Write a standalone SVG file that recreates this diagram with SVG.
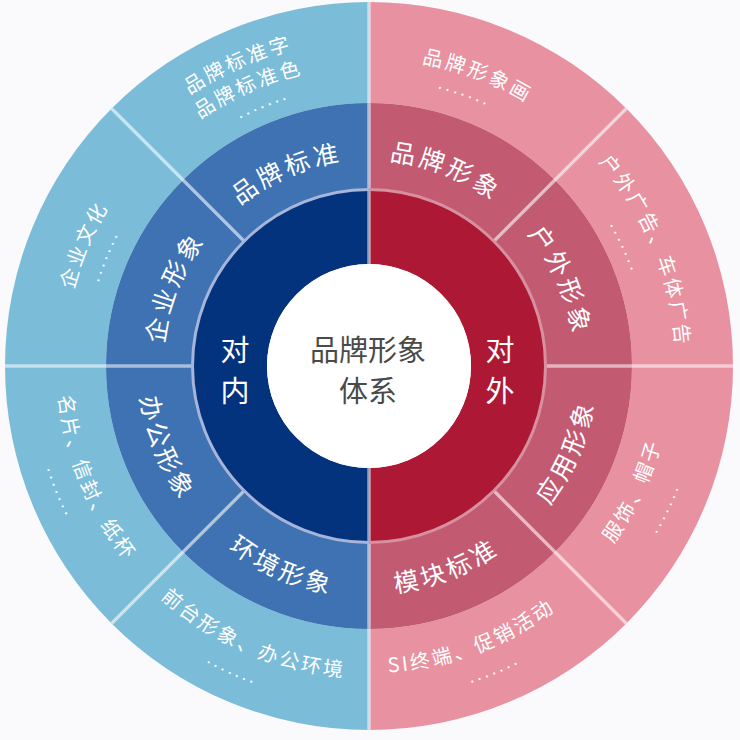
<svg xmlns="http://www.w3.org/2000/svg" xmlns:xlink="http://www.w3.org/1999/xlink" width="740" height="740" viewBox="0 0 740 740">
<defs>
<style>
.ob{fill:#7bbcd9}.mb{fill:#3e72b2}.ib{fill:#04337d}
.op{fill:#e891a1}.mp{fill:#c25a72}.ip{fill:#ad1934}
.tm{font-family:"Noto Sans CJK SC","Noto Sans",sans-serif;font-size:25px;fill:#fff;letter-spacing:3.5px;text-anchor:middle}
.to{font-family:"Noto Sans CJK SC","Noto Sans",sans-serif;font-size:20px;fill:#fff;letter-spacing:2.7px;text-anchor:middle}
.td{font-family:"Liberation Sans",sans-serif;font-size:18px;fill:#fff;letter-spacing:2.8px;text-anchor:middle}
.tc{font-family:"Noto Sans CJK SC","Noto Sans",sans-serif;font-size:29px;text-anchor:middle}
.div{stroke:#fff;stroke-opacity:0.55;stroke-width:3.5;fill:none}
</style>
<path id="mt206" d="M 236.59,208.20 A 206 206 0 0 1 501.41,208.20"/>
<path id="mb228" d="M 222.44,540.66 A 228 228 0 0 0 515.56,540.66"/>
<path id="mb231" d="M 220.52,542.96 A 231 231 0 0 0 517.48,542.96"/>
<path id="ot325" d="M 160.09,117.04 A 325 325 0 0 1 577.91,117.04"/>
<path id="ot299" d="M 176.81,136.95 A 299 299 0 0 1 561.19,136.95"/>
<path id="ot279" d="M 189.66,152.27 A 279 279 0 0 1 548.34,152.27"/>
<path id="ot307" d="M 171.66,130.83 A 307 307 0 0 1 566.34,130.83"/>
<path id="ot286" d="M 185.16,146.91 A 286 286 0 0 1 552.84,146.91"/>
<path id="ot305" d="M 172.95,132.36 A 305 305 0 0 1 565.05,132.36"/>
<path id="ot283" d="M 187.09,149.21 A 283 283 0 0 1 550.91,149.21"/>
<path id="ob302" d="M 174.88,597.34 A 302 302 0 0 0 563.12,597.34"/>
<path id="ob333" d="M 154.95,621.09 A 333 333 0 0 0 583.05,621.09"/>
<path id="ob307" d="M 171.66,601.17 A 307 307 0 0 0 566.34,601.17"/>
<path id="ob312" d="M 168.45,605.00 A 312 312 0 0 0 569.55,605.00"/>
<path id="ob338" d="M 151.74,624.92 A 338 338 0 0 0 586.26,624.92"/>
</defs>
<rect width="740" height="740" fill="#fafafc"/>

<!-- outer ring -->
<g id="outer-pinpai-biaozhunzi">
<path class="ob" d="M 111.61,108.61 A 364 364 0 0 1 369,2 L 369,103 A 263 263 0 0 0 183.03,180.03 Z"/>
<text class="to" transform="rotate(-23.5 369 366)"><textPath xlink:href="#ot325" href="#ot325" startOffset="50%">品牌标准字</textPath></text>
<text class="to" transform="rotate(-23.5 369 366)"><textPath xlink:href="#ot299" href="#ot299" startOffset="50%">品牌标准色</textPath></text>
<text class="td" transform="rotate(-22.1 369 366)"><textPath xlink:href="#ot279" href="#ot279" startOffset="50%">.......</textPath></text>
</g>
<g id="outer-pinpai-xingxianghua">
<path class="op" d="M 369,2 A 364 364 0 0 1 626.39,108.61 L 554.97,180.03 A 263 263 0 0 0 369,103 Z"/>
<text class="to" transform="rotate(20.5 369 366)"><textPath xlink:href="#ot307" href="#ot307" startOffset="50%">品牌形象画</textPath></text>
<text class="td" transform="rotate(19.3 369 366)"><textPath xlink:href="#ot286" href="#ot286" startOffset="50%">.......</textPath></text>
</g>
<g id="outer-huwai-guanggao">
<path class="op" d="M 626.39,108.61 A 364 364 0 0 1 733,366 L 632,366 A 263 263 0 0 0 554.97,180.03 Z"/>
<text class="to" transform="rotate(67.4 369 366)"><textPath xlink:href="#ot307" href="#ot307" startOffset="50%">户外广告、车体广告</textPath></text>
<text class="td" transform="rotate(65.1 369 366)"><textPath xlink:href="#ot279" href="#ot279" startOffset="50%">.......</textPath></text>
</g>
<g id="outer-fushi-maozi">
<path class="op" d="M 733,366 A 364 364 0 0 1 626.39,623.39 L 554.97,551.97 A 263 263 0 0 0 632,366 Z"/>
<text class="to" transform="rotate(-64.7 369 366)"><textPath xlink:href="#ob302" href="#ob302" startOffset="50%">服饰、帽子</textPath></text>
<text class="td" transform="rotate(-64.3 369 366)"><textPath xlink:href="#ob333" href="#ob333" startOffset="50%">.......</textPath></text>
</g>
<g id="outer-si-zhongduan">
<path class="op" d="M 626.39,623.39 A 364 364 0 0 1 369,730 L 369,629 A 263 263 0 0 0 554.97,551.97 Z"/>
<text class="to" transform="rotate(-20.6 369 366)"><textPath xlink:href="#ob307" href="#ob307" startOffset="50%">SI终端、促销活动</textPath></text>
<text class="td" transform="rotate(-22.4 369 366)"><textPath xlink:href="#ob333" href="#ob333" startOffset="50%">.......</textPath></text>
</g>
<g id="outer-qiantai">
<path class="ob" d="M 369,730 A 364 364 0 0 1 111.61,623.39 L 183.03,551.97 A 263 263 0 0 0 369,629 Z"/>
<text class="to" transform="rotate(23.2 369 366)"><textPath xlink:href="#ob312" href="#ob312" startOffset="50%">前台形象、办公环境</textPath></text>
<text class="td" transform="rotate(24.2 369 366)"><textPath xlink:href="#ob338" href="#ob338" startOffset="50%">.......</textPath></text>
</g>
<g id="outer-mingpian">
<path class="ob" d="M 111.61,623.39 A 364 364 0 0 1 5,366 L 106,366 A 263 263 0 0 0 183.03,551.97 Z"/>
<text class="to" transform="rotate(67.8 369 366)"><textPath xlink:href="#ob312" href="#ob312" startOffset="50%">名片、信封、纸杯</textPath></text>
<text class="td" transform="rotate(67.8 369 366)"><textPath xlink:href="#ob338" href="#ob338" startOffset="50%">.......</textPath></text>
</g>
<g id="outer-qiye-wenhua">
<path class="ob" d="M 5,366 A 364 364 0 0 1 111.61,108.61 L 183.03,180.03 A 263 263 0 0 0 106,366 Z"/>
<text class="to" transform="rotate(-67 369 366)"><textPath xlink:href="#ot305" href="#ot305" startOffset="50%">企业文化</textPath></text>
<text class="td" transform="rotate(-67.4 369 366)"><textPath xlink:href="#ot283" href="#ot283" startOffset="50%">.......</textPath></text>
</g>

<!-- middle ring -->
<g id="mid-pinpai-biaozhun">
<path class="mb" d="M 183.03,180.03 A 263 263 0 0 1 369,103 L 369,189.5 A 176.5 176.5 0 0 0 244.20,241.20 Z"/>
<text class="tm" transform="rotate(-23 369 366)"><textPath xlink:href="#mt206" href="#mt206" startOffset="50%">品牌标准</textPath></text>
</g>
<g id="mid-pinpai-xingxiang">
<path class="mp" d="M 369,103 A 263 263 0 0 1 554.97,180.03 L 493.80,241.20 A 176.5 176.5 0 0 0 369,189.5 Z"/>
<text class="tm" transform="rotate(21.5 369 366)"><textPath xlink:href="#mt206" href="#mt206" startOffset="50%">品牌形象</textPath></text>
</g>
<g id="mid-huwai-xingxiang">
<path class="mp" d="M 554.97,180.03 A 263 263 0 0 1 632,366 L 545.5,366 A 176.5 176.5 0 0 0 493.80,241.20 Z"/>
<text class="tm" transform="rotate(66 369 366)"><textPath xlink:href="#mt206" href="#mt206" startOffset="50%">户外形象</textPath></text>
</g>
<g id="mid-yingyong-xingxiang">
<path class="mp" d="M 632,366 A 263 263 0 0 1 554.97,551.97 L 493.80,490.80 A 176.5 176.5 0 0 0 545.5,366 Z"/>
<text class="tm" transform="rotate(-66.5 369 366)"><textPath xlink:href="#mb228" href="#mb228" startOffset="50%">应用形象</textPath></text>
</g>
<g id="mid-mokuai-biaozhun">
<path class="mp" d="M 554.97,551.97 A 263 263 0 0 1 369,629 L 369,542.5 A 176.5 176.5 0 0 0 493.80,490.80 Z"/>
<text class="tm" transform="rotate(-21 369 366)"><textPath xlink:href="#mb228" href="#mb228" startOffset="50%">模块标准</textPath></text>
</g>
<g id="mid-huanjing-xingxiang">
<path class="mb" d="M 369,629 A 263 263 0 0 1 183.03,551.97 L 244.20,490.80 A 176.5 176.5 0 0 0 369,542.5 Z"/>
<text class="tm" transform="rotate(23.5 369 366)"><textPath xlink:href="#mb231" href="#mb231" startOffset="50%">环境形象</textPath></text>
</g>
<g id="mid-bangong-xingxiang">
<path class="mb" d="M 183.03,551.97 A 263 263 0 0 1 106,366 L 192.5,366 A 176.5 176.5 0 0 0 244.20,490.80 Z"/>
<text class="tm" transform="rotate(68 369 366)"><textPath xlink:href="#mb231" href="#mb231" startOffset="50%">办公形象</textPath></text>
</g>
<g id="mid-qiye-xingxiang">
<path class="mb" d="M 106,366 A 263 263 0 0 1 183.03,180.03 L 244.20,241.20 A 176.5 176.5 0 0 0 192.5,366 Z"/>
<text class="tm" transform="rotate(-68 369 366)"><textPath xlink:href="#mt206" href="#mt206" startOffset="50%">企业形象</textPath></text>
</g>

<!-- inner ring -->
<g id="inner-dui-nei">
<path class="ib" d="M 369,189.5 A 176.5 176.5 0 0 0 369,542.5 L 369,468 A 102 102 0 0 1 369,264 Z"/>
<text class="tc" fill="#fff" x="235" y="361">对</text>
<text class="tc" fill="#fff" x="235" y="402">内</text>
</g>
<g id="inner-dui-wai">
<path class="ip" d="M 369,189.5 A 176.5 176.5 0 0 1 369,542.5 L 369,468 A 102 102 0 0 0 369,264 Z"/>
<text class="tc" fill="#fff" x="500" y="361">对</text>
<text class="tc" fill="#fff" x="500" y="402">外</text>
</g>

<!-- dividers -->
<g id="dividers">
<path class="div" d="M 369,2 V 264 M 369,468 V 730 M 5,366 H 192.5 M 545.5,366 H 733 M 493.80,241.20 L 626.39,108.61 M 493.80,490.80 L 626.39,623.39 M 244.20,490.80 L 111.61,623.39 M 244.20,241.20 L 111.61,108.61"/>
<path d="M 369,189.5 A 176.5 176.5 0 0 0 369,542.5" fill="none" stroke="#a7b5da" stroke-width="3"/>
<path d="M 369,189.5 A 176.5 176.5 0 0 1 369,542.5" fill="none" stroke="#d6909f" stroke-width="3"/>
</g>

<g id="center">
<circle cx="369" cy="366" r="102" fill="#ffffff"/>
<text class="tc" fill="#4a4a4a" x="368" y="361">品牌形象</text>
<text class="tc" fill="#4a4a4a" x="368" y="402">体系</text>
</g>
</svg>
